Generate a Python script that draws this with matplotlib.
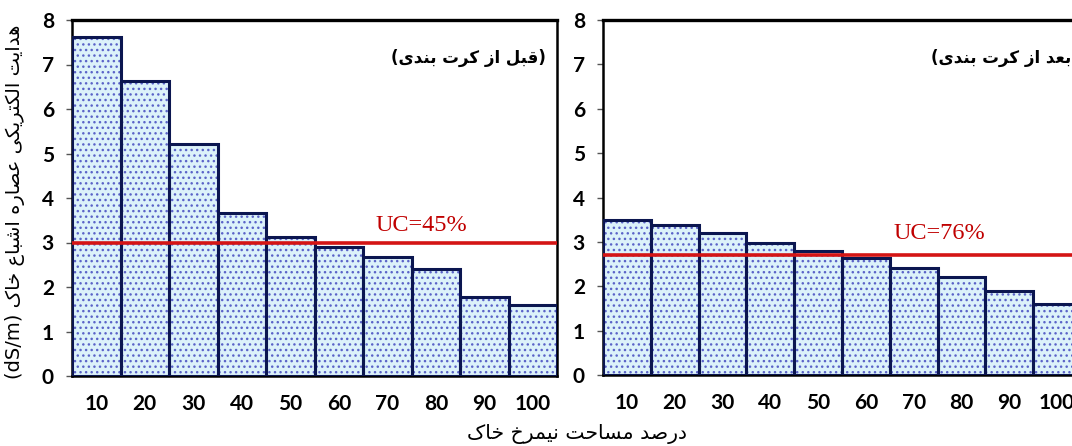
import matplotlib
matplotlib.use("Agg")
import matplotlib.pyplot as plt

# ---------------- data ----------------
area_pct = [10, 20, 30, 40, 50, 60, 70, 80, 90, 100]
ec_before = [7.62, 6.64, 5.21, 3.66, 3.12, 2.91, 2.67, 2.41, 1.78, 1.60]
ec_after = [3.49, 3.39, 3.19, 2.98, 2.79, 2.64, 2.42, 2.21, 1.89, 1.60]
uc_before_line = 3.0
uc_after_line = 2.7
uc_before_label = "UC=45%"
uc_after_label = "UC=76%"
title_before = "(قبل از کرت بندی)"
title_after = "(بعد از کرت بندی)"
ylabel_fa = "هدایت الکتریکی عصاره اشباع خاک"
ylabel_unit = "(dS/m)"
xlabel_fa = "درصد مساحت نیمرخ خاک"
yticks = [0, 1, 2, 3, 4, 5, 6, 7, 8]

# ---------------- minimal Persian shaping ----------------
FORMS = {
    'ا': (0xFE8D, 0xFE8E, None, None),
    'ب': (0xFE8F, 0xFE90, 0xFE91, 0xFE92),
    'ت': (0xFE95, 0xFE96, 0xFE97, 0xFE98),
    'ح': (0xFEA1, 0xFEA2, 0xFEA3, 0xFEA4),
    'خ': (0xFEA5, 0xFEA6, 0xFEA7, 0xFEA8),
    'د': (0xFEA9, 0xFEAA, None, None),
    'ر': (0xFEAD, 0xFEAE, None, None),
    'ز': (0xFEAF, 0xFEB0, None, None),
    'س': (0xFEB1, 0xFEB2, 0xFEB3, 0xFEB4),
    'ش': (0xFEB5, 0xFEB6, 0xFEB7, 0xFEB8),
    'ص': (0xFEB9, 0xFEBA, 0xFEBB, 0xFEBC),
    'ع': (0xFEC9, 0xFECA, 0xFECB, 0xFECC),
    'ق': (0xFED5, 0xFED6, 0xFED7, 0xFED8),
    'ل': (0xFEDD, 0xFEDE, 0xFEDF, 0xFEE0),
    'م': (0xFEE1, 0xFEE2, 0xFEE3, 0xFEE4),
    'ن': (0xFEE5, 0xFEE6, 0xFEE7, 0xFEE8),
    'ه': (0xFEE9, 0xFEEA, 0xFEEB, 0xFEEC),
    'ک': (0xFB8E, 0xFB8F, 0xFB90, 0xFB91),
    'ی': (0xFBFC, 0xFBFD, 0xFBFE, 0xFBFF),
}


def dual(c):
    return c in FORMS and FORMS[c][2] is not None


def shape_rtl(text):
    out = []
    n = len(text)
    for i, c in enumerate(text):
        if c not in FORMS:
            out.append(c)
            continue
        prev_j = i > 0 and dual(text[i - 1])
        next_j = dual(c) and i + 1 < n and text[i + 1] in FORMS
        f = FORMS[c]
        if prev_j and next_j:
            code = f[3]
        elif prev_j:
            code = f[1]
        elif next_j:
            code = f[2]
        else:
            code = f[0]
        out.append(chr(code))
    return "".join(reversed(out))


def paren_rtl(text):
    inner = text.strip("()")
    return "(" + shape_rtl(inner) + ")"


# ---------------- style ----------------
FILL = "#dcf2fa"
DOTS = "#5b63c8"
EDGE = "#0b1650"
RED = "#d41515"
TXT_RED = "#c00000"
plt.rcParams['hatch.linewidth'] = 1.0

fig = plt.figure(figsize=(10.72, 4.46), dpi=100)
ax1 = fig.add_axes([72 / 1072, 70 / 446, 485 / 1072, 356 / 446])
ax2 = fig.add_axes([603 / 1072, 71 / 446, 478 / 1072, 355 / 446])

tick_font = dict(family="Lato", weight="bold", size=15)


def draw(ax, vals, uc, uc_label, uc_xy, title, title_x):
    ax.bar(area_pct, vals, width=10, color=FILL, edgecolor="none", zorder=1)
    ax.bar(area_pct, vals, width=10, color="none", edgecolor=DOTS,
           hatch="...", linewidth=0, zorder=2)
    ax.bar(area_pct, vals, width=10, color="none", edgecolor=EDGE,
           linewidth=2.2, zorder=3)
    ax.axhline(uc, color=RED, linewidth=2.6, zorder=4)
    ax.text(uc_xy[0], uc_xy[1], uc_label, color=TXT_RED,
            family="Liberation Serif", fontsize=17.5, ha="left", va="bottom")
    ax.text(title_x, 7.15, paren_rtl(title), family="DejaVu Sans",
            weight="bold", fontsize=12, ha="right", va="center")
    ax.set_xlim(5, 105)
    ax.set_ylim(0, 8)
    ax.set_yticks(yticks)
    ax.set_xticks(area_pct)
    ax.set_yticklabels([str(v) for v in yticks], **tick_font)
    ax.set_xticklabels([str(v) for v in area_pct], **tick_font)
    ax.tick_params(axis="y", direction="out", length=4, width=1,
                   color="#555555", pad=9)
    ax.tick_params(axis="x", length=0, pad=13)
    for s in ax.spines.values():
        s.set_color("black")
        s.set_linewidth(1.8)
    ax.spines["top"].set_linewidth(2.4)


draw(ax1, ec_before, uc_before_line, uc_before_label, (67.5, 3.15),
     title_before, 102.7)
draw(ax2, ec_after, uc_after_line, uc_after_label, (65.7, 2.95),
     title_after, 104.6)

fig.text(15 / 1072, 1 - 202 / 446, ylabel_unit + " " + shape_rtl(ylabel_fa),
         rotation=90, ha="center", va="center", family="DejaVu Sans",
         fontsize=14)
fig.text(577 / 1072, 1 - 434 / 446, shape_rtl(xlabel_fa), ha="center",
         va="center", family="DejaVu Sans", fontsize=14.7)

fig.savefig("out.png", dpi=100)
